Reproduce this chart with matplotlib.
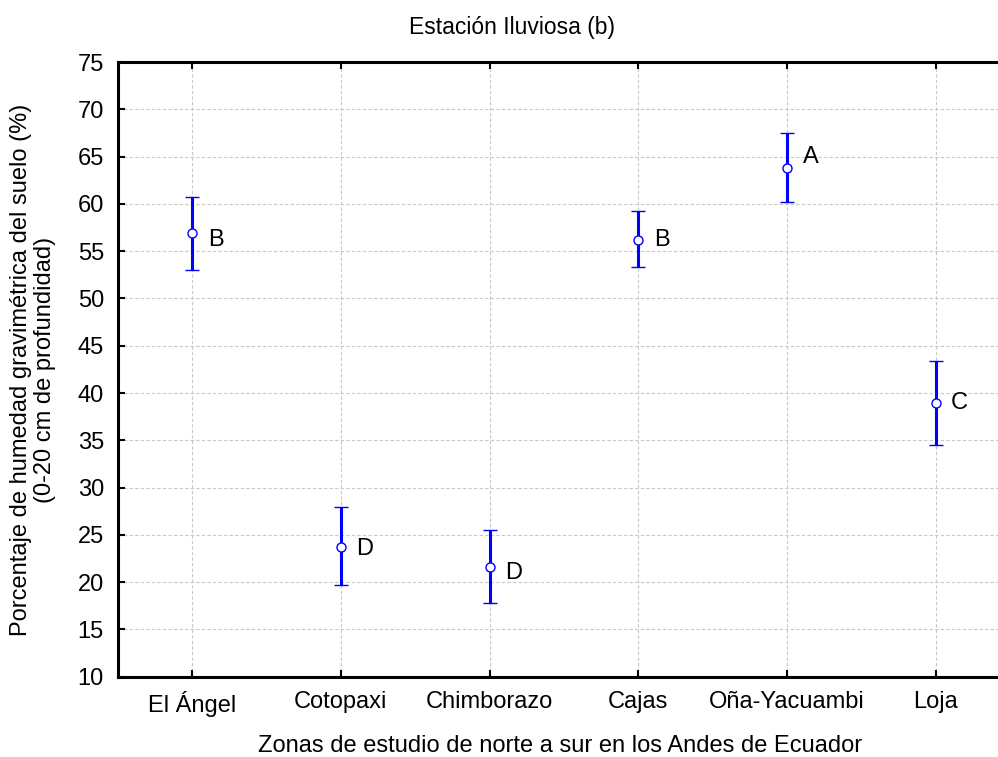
import numpy as np
import matplotlib.pyplot as plt

plt.rcParams['font.family'] = ['Liberation Sans', 'DejaVu Sans']

zonas = ['El Ángel', 'Cotopaxi', 'Chimborazo', 'Cajas', 'Oña-Yacuambi', 'Loja']
media = [56.9, 23.7, 21.6, 56.2, 63.8, 39.0]
lim_sup = [60.7, 27.9, 25.5, 59.2, 67.5, 43.4]
lim_inf = [53.0, 19.7, 17.8, 53.3, 60.2, 34.5]
letras = ['B', 'D', 'D', 'B', 'A', 'C']
letras_y = [56.2, 23.5, 21.0, 56.2, 65.0, 39.0]

x = np.arange(len(zonas))
media = np.array(media)
err = [media - np.array(lim_inf), np.array(lim_sup) - media]

fig = plt.figure(figsize=(9.98, 7.57), dpi=100)
ax = fig.add_axes([0.118, 0.106, 0.894, 0.812])

ax.errorbar(x, media, yerr=err, fmt='o', color='#0000ff', ecolor='#0000ff',
            elinewidth=2.2, capsize=5.3, capthick=2.2, markersize=6.5,
            markerfacecolor='white', markeredgecolor='#0000ff',
            markeredgewidth=1.0, zorder=3)

for xi, yi, t in zip(x, letras_y, letras):
    ax.annotate(t, (xi, yi), xytext=(17, 0), textcoords='offset points',
                ha='center', va='center', fontsize=17)

ax.set_xlim(-0.5, 5.5)
ax.set_ylim(10, 75)
ax.set_yticks(np.arange(10, 76, 5))
ax.set_xticks(x)
ax.set_xticklabels(zonas)

ax.grid(True, linestyle=(0, (3, 2)), color='#c8c8c8', linewidth=0.8)
ax.set_axisbelow(True)
for s in ax.spines.values():
    s.set_linewidth(2.2)
ax.tick_params(direction='in', length=5, width=1.5, labelsize=17,
               top=True, right=True, pad=10)
ax.tick_params(axis='x', pad=10)

fig.text(0.033, 0.511, 'Porcentaje de humedad gravimétrica del suelo (%)\n(0-20 cm de profundidad)',
         rotation=90, ha='center', va='center', fontsize=17, linespacing=1.1)
fig.text(0.561, 0.0145, 'Zonas de estudio de norte a sur en los Andes de Ecuador',
         ha='center', va='center', fontsize=17)
fig.text(0.513, 0.964, 'Estación Iluviosa (b)', ha='center', va='center', fontsize=16.5)

fig.savefig('out.png', dpi=100)
